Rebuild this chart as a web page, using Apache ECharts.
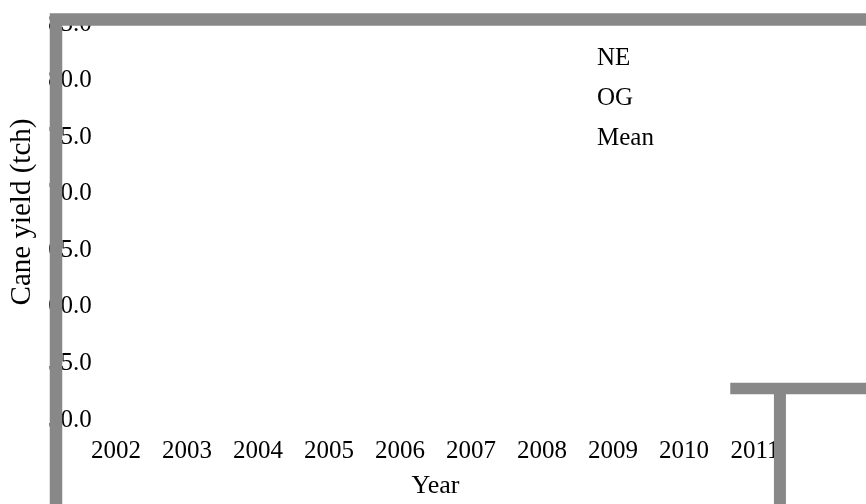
<!DOCTYPE html>
<html>
<head>
<meta charset="utf-8">
<script src="https://cdn.jsdelivr.net/npm/echarts@6/dist/echarts.min.js"></script>
<style>html,body{margin:0;padding:0;background:#fff}#c{width:866px;height:504px}</style>
</head>
<body>
<div id="c"></div>
<script>
// ---- data ----
var years = ['2002','2003','2004','2005','2006','2007','2008','2009','2010','2011'];
var seriesNames = ['NE','OG','Mean'];
var neValues = [];      // no visible points in the reference
var ogValues = [];
var meanValues = [];
var yTicks = { min: 50, max: 85, step: 5 };
// gray frame drawn in (year, tch) coordinates of the main plot
var framePath = [[2001.148, 40], [2001.148, 85.40], [2013.5, 85.40]];
var capLine = [[2010.65, 52.78], [2013.5, 52.78]];
var stemLine = [[2011.35, 52.78], [2011.35, 40]];

var FONT = 'Liberation Serif';
var GRAY = '#888888';
var chart = echarts.init(document.getElementById('c'), null, {renderer: 'canvas'});

function graySeries(name, data, w) {
  return {
    name: name, type: 'line', xAxisIndex: 0, yAxisIndex: 0,
    data: data, clip: false, symbol: 'none', silent: true,
    lineStyle: { color: GRAY, width: w, cap: 'butt', join: 'miter' },
    z: 5, animation: false
  };
}

chart.setOption({
  animation: false,
  backgroundColor: '#fff',
  textStyle: { fontFamily: FONT },
  grid: [
    { left: 55.5, right: 0, top: 24, bottom: 84, containLabel: false },
    { left: 80.5, right: 75.5, top: 24, bottom: 84, containLabel: false }
  ],
  legend: {
    data: seriesNames, orient: 'vertical', left: 587, top: 41,
    itemWidth: 0, itemHeight: 25, itemGap: 15, icon: 'rect',
    textStyle: { fontFamily: FONT, fontSize: 25, color: '#000' },
    selectedMode: false
  },
  xAxis: [
    { type: 'value', gridIndex: 0, min: 2001.148, max: 2012.563, show: false },
    { type: 'category', gridIndex: 1, data: years, boundaryGap: true,
      axisLine: { show: false }, axisTick: { show: false }, splitLine: { show: false },
      axisLabel: { margin: 19, fontFamily: FONT, fontSize: 25, color: '#000' },
      name: 'Year', nameLocation: 'middle', nameGap: 53,
      nameTextStyle: { fontFamily: FONT, fontSize: 26, color: '#000' } }
  ],
  yAxis: [
    { type: 'value', gridIndex: 0, min: yTicks.min, max: yTicks.max, interval: yTicks.step,
      axisLine: { show: false }, axisTick: { show: false }, splitLine: { show: false },
      axisLabel: { margin: 8, align: 'left', fontFamily: FONT, fontSize: 25, color: '#000',
        formatter: function (v) { return v.toFixed(1); } },
      name: 'Cane yield (tch)', nameLocation: 'middle', nameGap: 19, nameRotate: 90,
      nameTextStyle: { fontFamily: FONT, fontSize: 29, color: '#000', padding: [0, 0, 0, 20] } },
    { type: 'value', gridIndex: 1, min: yTicks.min, max: yTicks.max, show: false }
  ],
  series: [
    { name: 'NE', type: 'line', xAxisIndex: 1, yAxisIndex: 1, data: neValues, color: 'rgba(0,0,0,0)' },
    { name: 'OG', type: 'line', xAxisIndex: 1, yAxisIndex: 1, data: ogValues, color: 'rgba(0,0,0,0)' },
    { name: 'Mean', type: 'line', xAxisIndex: 1, yAxisIndex: 1, data: meanValues, color: 'rgba(0,0,0,0)' },
    graySeries('frame', framePath, 12.5),
    graySeries('cap', capLine, 11.5),
    graySeries('stem', stemLine, 12)
  ]
});
</script>
</body>
</html>
